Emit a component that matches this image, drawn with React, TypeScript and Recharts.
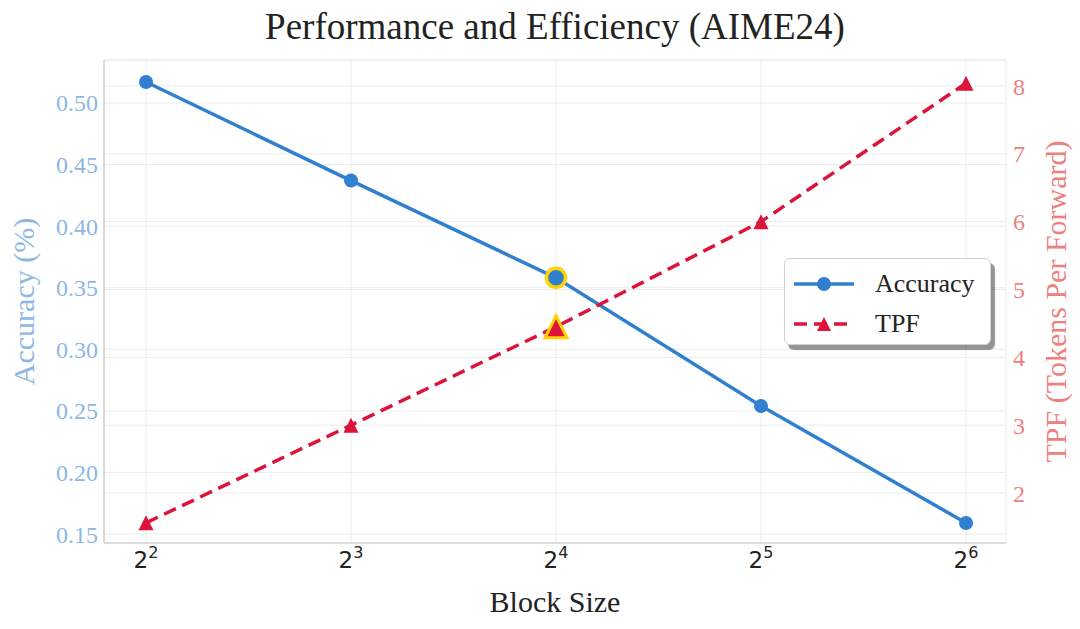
import React from 'react';
import {
  ComposedChart,
  Line,
  XAxis,
  YAxis,
  CartesianGrid,
  Legend,
} from 'recharts';

// ---- data ----
const blockExponents = [2, 3, 4, 5, 6]; // block size = 2^n
const accuracy = [0.517, 0.437, 0.358, 0.254, 0.159];
const tpf = [1.56, 3.0, 4.45, 6.0, 8.04];
const highlightExponent = 4;

const accuracyTicks = [0.15, 0.2, 0.25, 0.3, 0.35, 0.4, 0.45, 0.5];
const tpfTicks = [2, 3, 4, 5, 6, 7, 8];

const data = blockExponents.map((x, i) => ({ x, accuracy: accuracy[i], tpf: tpf[i] }));

// ---- styles ----
const BLUE = '#3180cf';
const RED = '#dc143c';
const GOLD = '#ffd200';
const LEFT_TXT = '#8db8e3';
const RIGHT_TXT = '#ee8080';
const GRID = '#ececec';
const SERIF = '"Liberation Serif", "Times New Roman", serif';

const AccDot = (props: any) => {
  const { cx, cy, payload, index } = props;
  if (cx == null || cy == null) return null;
  if (payload && payload.x === highlightExponent) {
    return <circle key={`a${index}`} cx={cx} cy={cy} r={9.5} fill={BLUE} stroke={GOLD} strokeWidth={3.5} />;
  }
  return <circle key={`a${index}`} cx={cx} cy={cy} r={7} fill={BLUE} />;
};

const triPoints = (cx: number, cy: number, h: number) =>
  `${cx},${cy - h} ${cx - h},${cy + h} ${cx + h},${cy + h}`;

const TpfDot = (props: any) => {
  const { cx, cy, payload, index } = props;
  if (cx == null || cy == null) return null;
  if (payload && payload.x === highlightExponent) {
    return (
      <polygon
        key={`t${index}`}
        points={triPoints(cx, cy, 11)}
        fill={RED}
        stroke={GOLD}
        strokeWidth={3}
        strokeLinejoin="miter"
      />
    );
  }
  return <polygon key={`t${index}`} points={triPoints(cx, cy, 7.5)} fill={RED} />;
};

const XTick = (props: any) => {
  const { x, y, payload } = props;
  return (
    <text x={x} y={y + 25} textAnchor="middle" fontFamily='"DejaVu Sans", sans-serif' fontSize={23} fill="#222">
      2
      <tspan dy={-10} fontSize={16}>
        {payload.value}
      </tspan>
    </text>
  );
};

const legendItems = [
  { key: 'accuracy', name: 'Accuracy', color: BLUE, dash: undefined as string | undefined, marker: 'circle' },
  { key: 'tpf', name: 'TPF', color: RED, dash: '13 7', marker: 'triangle' },
];

const LegendBox = () => (
  <div
    style={{
      width: 207,
      height: 87,
      boxSizing: 'border-box',
      border: '1px solid #d0d0d0',
      borderRadius: 6,
      background: '#fff',
      boxShadow: '4px 5px 1px rgba(0,0,0,0.42)',
      paddingTop: 5,
    }}
  >
    {legendItems.map((it) => (
      <div key={it.key} style={{ display: 'flex', alignItems: 'center', height: 40 }}>
        <svg width={90} height={30} style={{ display: 'block' }}>
          <line x1={9} y1={15} x2={69} y2={15} stroke={it.color} strokeWidth={3.5} strokeDasharray={it.dash} />
          {it.marker === 'circle' ? (
            <circle cx={39} cy={15} r={7} fill={it.color} />
          ) : (
            <polygon points={triPoints(39, 15, 7)} fill={it.color} />
          )}
        </svg>
        <span style={{ fontFamily: SERIF, fontSize: 26, color: '#222', lineHeight: '30px' }}>{it.name}</span>
      </div>
    ))}
  </div>
);

export default function App() {
  return (
    <div style={{ position: 'absolute', left: 0, top: 0, width: 1080, height: 629, background: '#fff' }}>
      <div
        style={{
          position: 'absolute',
          left: 0,
          top: 8,
          width: 1110,
          textAlign: 'center',
          fontFamily: SERIF,
          fontSize: 37,
          lineHeight: '37px',
          color: '#222',
        }}
      >
        Performance and Efficiency (AIME24)
      </div>
      <ComposedChart width={1080} height={629} data={data} margin={{ top: 60, right: 0, bottom: 0, left: 0 }}>
        <CartesianGrid yAxisId="left" stroke={GRID} strokeWidth={1} horizontal vertical />
        <CartesianGrid yAxisId="right" stroke={GRID} strokeWidth={1} horizontal vertical={false} />
        <XAxis
          dataKey="x"
          type="number"
          domain={[1.795, 6.195]}
          ticks={blockExponents}
          allowDataOverflow
          height={86}
          tickLine={false}
          tickSize={0}
          tickMargin={0}
          axisLine={{ stroke: '#c8c8c8', strokeWidth: 1.2 }}
          tick={<XTick />}
          label={{ value: 'Block Size', position: 'insideBottom', offset: 17, fontSize: 30, fontFamily: SERIF, fill: '#222' }}
        />
        <YAxis
          yAxisId="left"
          orientation="left"
          width={104}
          domain={[0.1427, 0.5349]}
          ticks={accuracyTicks}
          allowDataOverflow
          tickFormatter={(v: number) => v.toFixed(2)}
          tickLine={false}
          tickSize={0}
          tickMargin={6}
          axisLine={{ stroke: '#c8c8c8', strokeWidth: 1.2 }}
          tick={{ fontSize: 24, fontFamily: SERIF, fill: LEFT_TXT }}
          label={{
            value: 'Accuracy (%)',
            angle: -90,
            position: 'insideLeft',
            offset: 23,
            fontSize: 30,
            fontFamily: SERIF,
            fill: LEFT_TXT,
            style: { textAnchor: 'middle' },
          }}
        />
        <YAxis
          yAxisId="right"
          orientation="right"
          width={74}
          domain={[1.263, 8.383]}
          ticks={tpfTicks}
          allowDataOverflow
          tickLine={false}
          tickSize={0}
          tickMargin={7}
          axisLine={false}
          tick={{ fontSize: 24, fontFamily: SERIF, fill: RIGHT_TXT }}
          label={{
            value: 'TPF (Tokens Per Forward)',
            angle: -90,
            position: 'insideRight',
            offset: 25,
            fontSize: 30,
            fontFamily: SERIF,
            fill: RIGHT_TXT,
            style: { textAnchor: 'middle' },
          }}
        />
        <Legend
          layout="vertical"
          align="center"
          verticalAlign="middle"
          content={() => <LegendBox />}
          wrapperStyle={{ position: 'absolute', left: 784, top: 258, width: 'auto', height: 'auto' }}
        />
        <Line
          yAxisId="left"
          type="linear"
          dataKey="accuracy"
          name="Accuracy"
          stroke={BLUE}
          strokeWidth={3.5}
          dot={AccDot}
          activeDot={false}
          isAnimationActive={false}
        />
        <Line
          yAxisId="right"
          type="linear"
          dataKey="tpf"
          name="TPF"
          stroke={RED}
          strokeWidth={3.5}
          strokeDasharray="13 7"
          dot={TpfDot}
          activeDot={false}
          isAnimationActive={false}
        />
      </ComposedChart>
    </div>
  );
}
